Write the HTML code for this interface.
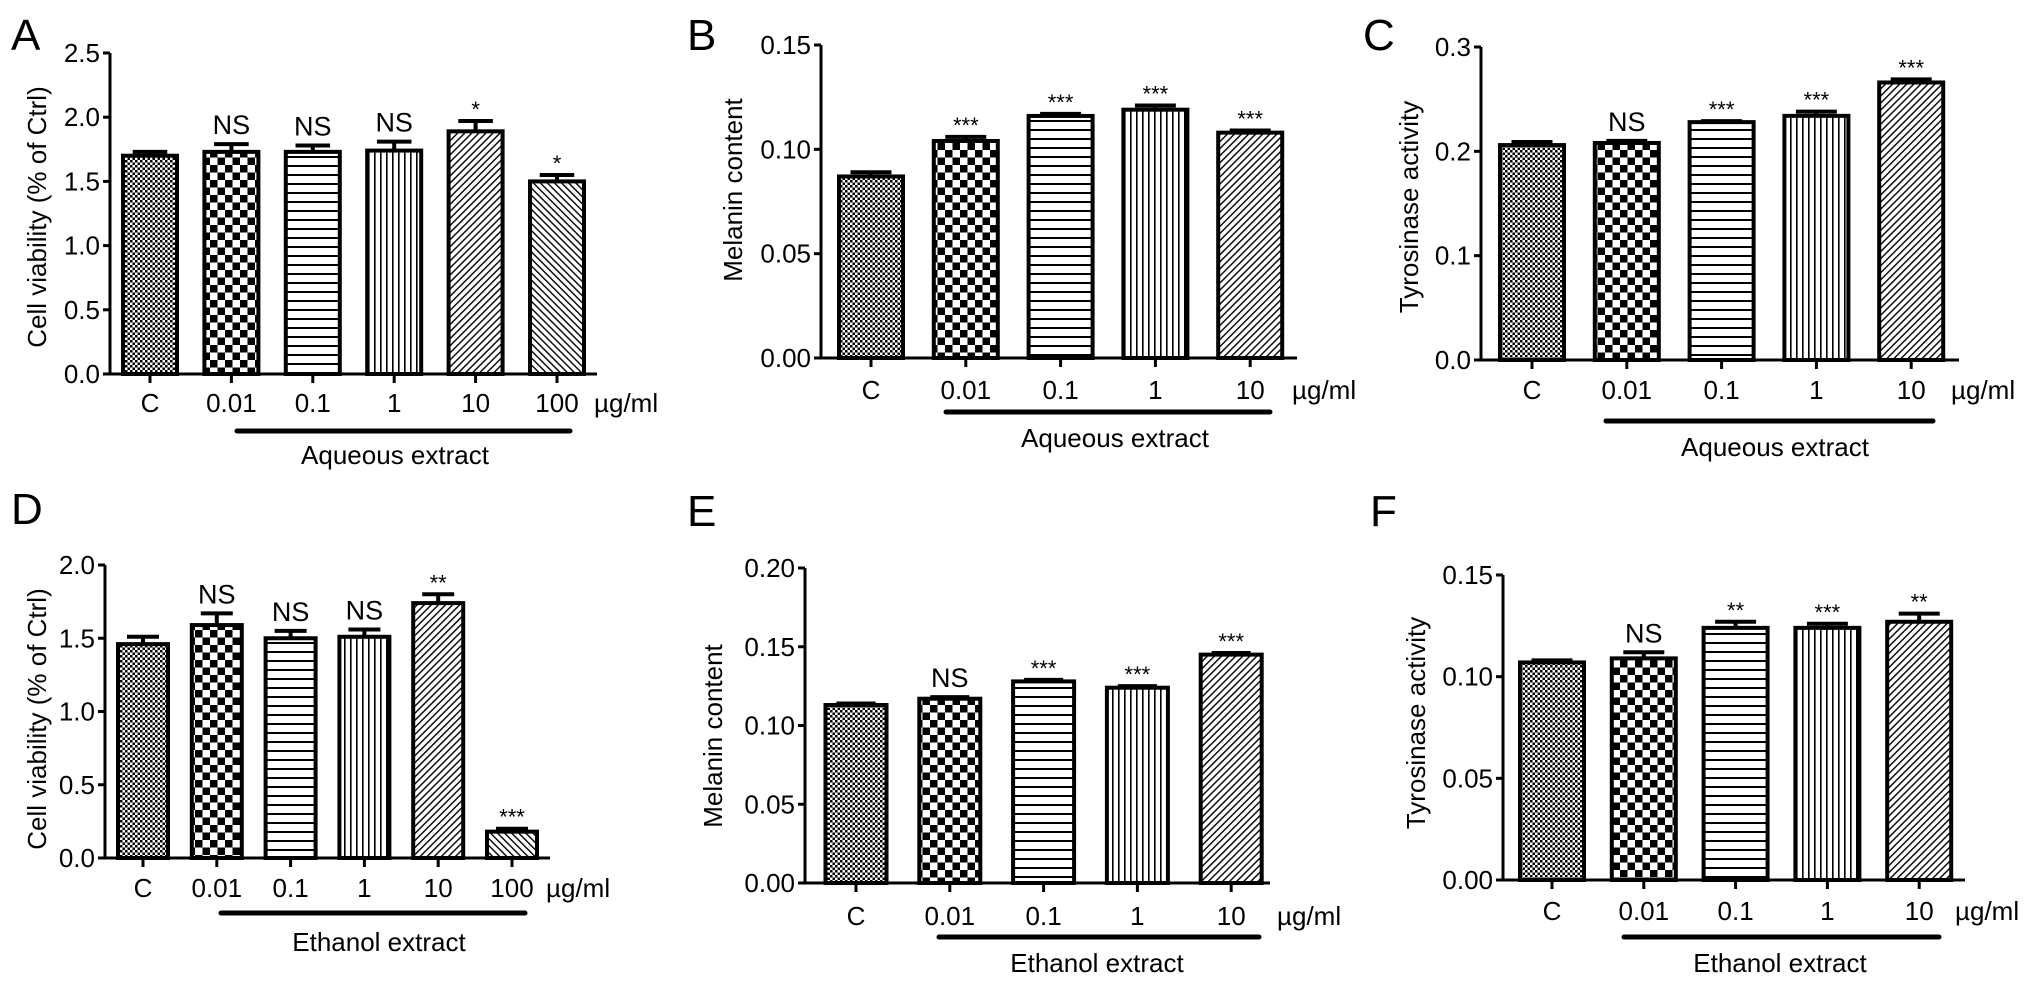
<!DOCTYPE html>
<html><head><meta charset="utf-8"><style>
html,body{margin:0;padding:0;background:#fff;}
svg{display:block;font-family:"Liberation Sans",Arial,sans-serif;}
</style></head><body>
<svg id="fig" width="2032" height="986" viewBox="0 0 2032 986" xmlns="http://www.w3.org/2000/svg">
<defs>
<pattern id="p0" width="5" height="5" patternUnits="userSpaceOnUse"><rect width="5" height="5" fill="#fff"/><rect width="2.5" height="2.5" fill="#000"/><rect x="2.5" y="2.5" width="2.5" height="2.5" fill="#000"/></pattern>
<pattern id="p1" width="15" height="15" patternUnits="userSpaceOnUse"><rect width="15" height="15" fill="#fff"/><rect width="7.5" height="7.5" fill="#000"/><rect x="7.5" y="7.5" width="7.5" height="7.5" fill="#000"/></pattern>
<pattern id="p2" width="9" height="9" patternUnits="userSpaceOnUse"><rect width="9" height="9" fill="#fff"/><rect y="3" width="9" height="2" fill="#000"/></pattern>
<pattern id="p3" width="6" height="6" patternUnits="userSpaceOnUse"><rect width="6" height="6" fill="#fff"/><rect x="2" width="1.6" height="6" fill="#000"/></pattern>
<pattern id="p4" width="5" height="5" patternUnits="userSpaceOnUse" patternTransform="rotate(45)"><rect width="5" height="5" fill="#fff"/><rect x="2" width="1.4" height="5" fill="#000"/></pattern>
<pattern id="p5" width="5" height="5" patternUnits="userSpaceOnUse" patternTransform="rotate(-45)"><rect width="5" height="5" fill="#fff"/><rect x="2" width="1.4" height="5" fill="#000"/></pattern>
</defs>
<g id="root"></g>
</svg>
<script>
// Panel A
const catsA = ["C","0.01","0.1","1","10","100"];
const valsA = [1.70,1.73,1.73,1.74,1.89,1.50];
const errsA = [0.03,0.06,0.05,0.07,0.08,0.05];
const sigA  = ["","NS","NS","NS","*","*"];
const ticksA = ["0.0","0.5","1.0","1.5","2.0","2.5"];
// Panel B
const catsB = ["C","0.01","0.1","1","10"];
const valsB = [0.087,0.104,0.116,0.119,0.108];
const errsB = [0.002,0.002,0.001,0.002,0.001];
const sigB  = ["","***","***","***","***"];
const ticksB = ["0.00","0.05","0.10","0.15"];
// Panel C
const catsC = ["C","0.01","0.1","1","10"];
const valsC = [0.206,0.208,0.228,0.234,0.266];
const errsC = [0.003,0.002,0.001,0.004,0.003];
const sigC  = ["","NS","***","***","***"];
const ticksC = ["0.0","0.1","0.2","0.3"];
// Panel D
const catsD = ["C","0.01","0.1","1","10","100"];
const valsD = [1.46,1.59,1.50,1.51,1.74,0.18];
const errsD = [0.05,0.08,0.05,0.05,0.06,0.02];
const sigD  = ["","NS","NS","NS","**","***"];
const ticksD = ["0.0","0.5","1.0","1.5","2.0"];
// Panel E
const catsE = ["C","0.01","0.1","1","10"];
const valsE = [0.113,0.117,0.128,0.124,0.145];
const errsE = [0.001,0.001,0.001,0.001,0.001];
const sigE  = ["","NS","***","***","***"];
const ticksE = ["0.00","0.05","0.10","0.15","0.20"];
// Panel F
const catsF = ["C","0.01","0.1","1","10"];
const valsF = [0.107,0.109,0.124,0.124,0.127];
const errsF = [0.001,0.003,0.003,0.002,0.004];
const sigF  = ["","NS","**","***","**"];
const ticksF = ["0.00","0.05","0.10","0.15"];

const NS="http://www.w3.org/2000/svg";
const root=document.getElementById('root');
function mk(tag,attrs,parent,txt){const e=document.createElementNS(NS,tag);for(const k in attrs)e.setAttribute(k,attrs[k]);if(txt!==undefined)e.textContent=txt;parent.appendChild(e);return e;}

function panel(id,L,cats,vals,errs,sig,ticks,title,group){
  const g=mk('g',{},root);
  
  
  const max=parseFloat(ticks[ticks.length-1]);
  const y=v=>L.y0-(v/max)*(L.y0-L.yTop);
  const x=i=>L.c0+i*L.pitch;
  const t=mk('text',{x:L.lx,y:L.ly,'font-size':44},g,id);
  
  
  cats.forEach((c,i)=>{
    const top=y(vals[i]);
    const b=mk('rect',{x:x(i)-L.bw/2,y:top,width:L.bw,height:L.y0-top,fill:'url(#p'+i+')',stroke:'#000','stroke-width':4},g);
    
    
    const et=y(vals[i]+errs[i]);
    const eb=mk('path',{d:`M${x(i)} ${top} V${et} M${x(i)-L.bw*0.32} ${et} H${x(i)+L.bw*0.32}`,stroke:'#000','stroke-width':4,fill:'none'},g);
    
    
    if(sig[i]){
      const isNS=sig[i]==='NS';
      const s=mk('text',{x:x(i),y:et-(isNS?10:4),'text-anchor':'middle','font-size':isNS?27:22},g,sig[i]);
      
      
    }
    const tk=mk('line',{x1:x(i),x2:x(i),y1:L.y0,y2:L.y0+9,stroke:'#000','stroke-width':3},g);
    
    
    const xl=mk('text',{x:x(i),y:L.labY+9,'text-anchor':'middle','font-size':26},g,c);
    
    
  });
  const ax=mk('path',{d:`M${L.ax} ${L.yTop} V${L.y0} H${L.xEnd}`,stroke:'#000','stroke-width':3,fill:'none'},g);
  
  
  ticks.forEach(tl=>{
    const v=parseFloat(tl);
    const yt=mk('line',{x1:L.ax-7,x2:L.ax,y1:y(v),y2:y(v),stroke:'#000','stroke-width':3},g);
    
    
    const ytl=mk('text',{x:L.ax-10,y:y(v)+9,'text-anchor':'end','font-size':26},g,tl);
    
    
  });
  const yt=mk('text',{x:0,y:0,'text-anchor':'middle','font-size':26,transform:`translate(${L.tx+9},${L.ty}) rotate(-90)`},g,title);
  
  
  const u=mk('text',{x:L.ux,y:L.labY+9,'font-size':26},g,'\u00b5g/ml');
  
  
  const ul=mk('line',{x1:L.u1,x2:L.u2,y1:L.uy,y2:L.uy,stroke:'#000','stroke-width':5,'stroke-linecap':'round'},g);
  
  
  const gl=mk('text',{x:L.gx,y:L.gy+9,'text-anchor':'middle','font-size':26},g,group);
  
  
}
panel('A',{ax:110,y0:374,yTop:53,xEnd:597,c0:150,pitch:81.4,bw:54,labY:403,ux:594,uy:431,u1:237,u2:570,gx:395,gy:455,tx:37,ty:217,lx:11,ly:50},catsA,valsA,errsA,sigA,ticksA,'Cell viability (% of Ctrl)','Aqueous extract');
panel('B',{ax:821,y0:358,yTop:45,xEnd:1297,c0:871,pitch:94.8,bw:64,labY:390,ux:1292,uy:412,u1:946,u2:1270,gx:1115,gy:438,tx:733,ty:190,lx:687,ly:50},catsB,valsB,errsB,sigB,ticksB,'Melanin content','Aqueous extract');
panel('C',{ax:1481,y0:360,yTop:47,xEnd:1959,c0:1532,pitch:94.8,bw:64,labY:390,ux:1951,uy:421,u1:1606,u2:1933,gx:1775,gy:447,tx:1409,ty:207,lx:1363,ly:50},catsC,valsC,errsC,sigC,ticksC,'Tyrosinase activity','Aqueous extract');
panel('D',{ax:105,y0:858,yTop:565,xEnd:550,c0:143,pitch:73.8,bw:50,labY:888,ux:546,uy:913,u1:221,u2:525,gx:379,gy:942,tx:37,ty:719,lx:11,ly:524},catsD,valsD,errsD,sigD,ticksD,'Cell viability (% of Ctrl)','Ethanol extract');
panel('E',{ax:805,y0:883,yTop:568,xEnd:1270,c0:856,pitch:93.8,bw:61,labY:916,ux:1277,uy:937,u1:939,u2:1259,gx:1097,gy:963,tx:713,ty:736,lx:687,ly:526},catsE,valsE,errsE,sigE,ticksE,'Melanin content','Ethanol extract');
panel('F',{ax:1503,y0:880,yTop:575,xEnd:1965,c0:1552,pitch:91.8,bw:64,labY:911,ux:1955,uy:937,u1:1624,u2:1939,gx:1780,gy:963,tx:1416,ty:723,lx:1370,ly:526},catsF,valsF,errsF,sigF,ticksF,'Tyrosinase activity','Ethanol extract');
</script>
</body></html>
